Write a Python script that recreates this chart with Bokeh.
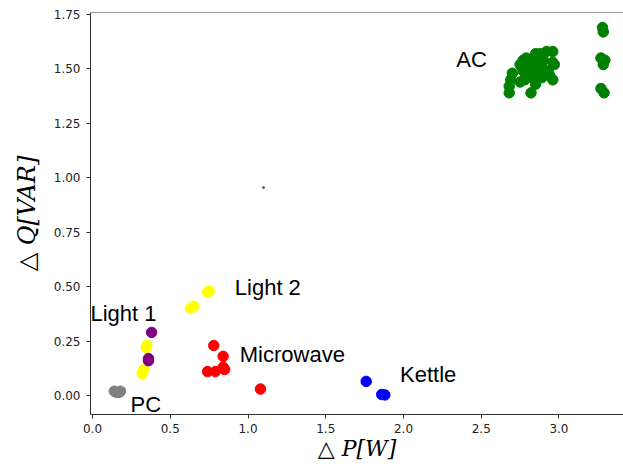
from bokeh.plotting import figure
from bokeh.models import ColumnDataSource, Range1d, FixedTicker, NumeralTickFormatter, Span, LabelSet
from bokeh.core.properties import value
from bokeh.embed import file_html
from bokeh.resources import INLINE

# ---- data ----
ac_x = [3.28, 3.285, 3.27, 3.295, 3.285, 3.27, 3.29,
        2.96, 2.92, 2.88, 2.85, 2.81, 2.79, 2.77, 2.75, 2.96, 2.97, 2.93, 2.96,
        2.89, 2.87, 2.83, 2.81, 2.77, 2.76, 2.89, 2.83, 2.79, 2.70, 2.69, 2.75,
        2.78, 2.68, 2.68, 2.85, 2.82, 2.94, 2.90, 2.85]
ac_y = [1.69, 1.67, 1.55, 1.54, 1.52, 1.41, 1.39,
        1.58, 1.58, 1.57, 1.57, 1.53, 1.55, 1.54, 1.52, 1.53, 1.52, 1.49, 1.45,
        1.51, 1.49, 1.51, 1.50, 1.49, 1.51, 1.46, 1.46, 1.48, 1.48, 1.45, 1.44,
        1.45, 1.42, 1.39, 1.43, 1.39, 1.47, 1.54, 1.54]

light2_x = [0.75, 0.74, 0.63, 0.65]
light2_y = [0.48, 0.475, 0.40, 0.41]

light1_x = [0.35, 0.345, 0.32, 0.33]
light1_y = [0.23, 0.22, 0.10, 0.12]

purple_x = [0.38, 0.36, 0.36]
purple_y = [0.29, 0.16, 0.17]

pc_x = [0.14, 0.155, 0.17, 0.18]
pc_y = [0.02, 0.015, 0.015, 0.02]

micro_x = [0.78, 0.84, 0.74, 0.79, 0.84, 0.85, 1.08]
micro_y = [0.23, 0.18, 0.11, 0.11, 0.13, 0.12, 0.03]

kettle_x = [1.76, 1.86, 1.88]
kettle_y = [0.065, 0.005, 0.003]

stray_x = [1.10]
stray_y = [0.955]

label_text = ["AC", "Light 2", "Light 1", "Microwave", "Kettle", "PC"]
label_x = [2.34, 0.915, -0.013, 0.947, 1.978, 0.245]
label_y = [1.543, 0.496, 0.377, 0.188, 0.096, -0.041]

x_ticks = [0.0, 0.5, 1.0, 1.5, 2.0, 2.5, 3.0]
y_ticks = [0.0, 0.25, 0.5, 0.75, 1.0, 1.25, 1.5, 1.75]

# ---- figure ----
p = figure(width=623, height=466, output_backend="svg", toolbar_location=None,
           x_range=Range1d(-0.013, 3.415), y_range=Range1d(-0.087, 1.759),
           min_border_left=90, min_border_right=0, min_border_top=12, min_border_bottom=52)
p.outline_line_color = None
p.grid.visible = False
p.background_fill_color = "white"
p.border_fill_color = "white"

series = [
    (ac_x, ac_y, "green"),
    (light2_x, light2_y, "yellow"),
    (light1_x, light1_y, "yellow"),
    (purple_x, purple_y, "purple"),
    (pc_x, pc_y, "gray"),
    (micro_x, micro_y, "red"),
    (kettle_x, kettle_y, "blue"),
]
for xs, ys, c in series:
    p.scatter(xs, ys, size=10.5, color=c, line_color=c)

p.scatter(stray_x, stray_y, size=2, color="#555555")

src = ColumnDataSource(dict(x=label_x, y=label_y, t=label_text))
p.add_layout(LabelSet(x="x", y="y", text="t", source=src, text_font=value("Liberation Sans"),
                      text_font_size="22px", text_color="black", text_align="left",
                      text_baseline="middle"))

p.add_layout(Span(location=1.759, dimension="width", line_color="#333333", line_width=1))

p.xaxis.ticker = FixedTicker(ticks=x_ticks)
p.yaxis.ticker = FixedTicker(ticks=y_ticks)
p.xaxis.formatter = NumeralTickFormatter(format="0.0")
p.yaxis.formatter = NumeralTickFormatter(format="0.00")

for ax in (p.xaxis[0], p.yaxis[0]):
    ax.axis_line_color = "#333333"
    ax.major_tick_line_color = "#333333"
    ax.major_tick_out = 4
    ax.major_tick_in = 0
    ax.minor_tick_line_color = None
    ax.major_label_text_font = "DejaVu Sans"
    ax.major_label_text_font_size = "12px"
    ax.major_label_text_color = "#222222"
    ax.major_label_standoff = 6
    ax.axis_label_text_font = "DejaVu Serif"
    ax.axis_label_text_font_style = "italic"
    ax.axis_label_text_font_size = "24px"
    ax.axis_label_text_color = "black"

p.xaxis.axis_label = "△ P[W]"
p.yaxis.axis_label = "△ Q[VAR]"
p.xaxis.major_label_standoff = 5
p.xaxis.axis_label_standoff = 0
p.xaxis.axis_label_text_font_size = "22px"
p.yaxis.axis_label_standoff = 10

open("out.html", "w").write(file_html(p, INLINE))
